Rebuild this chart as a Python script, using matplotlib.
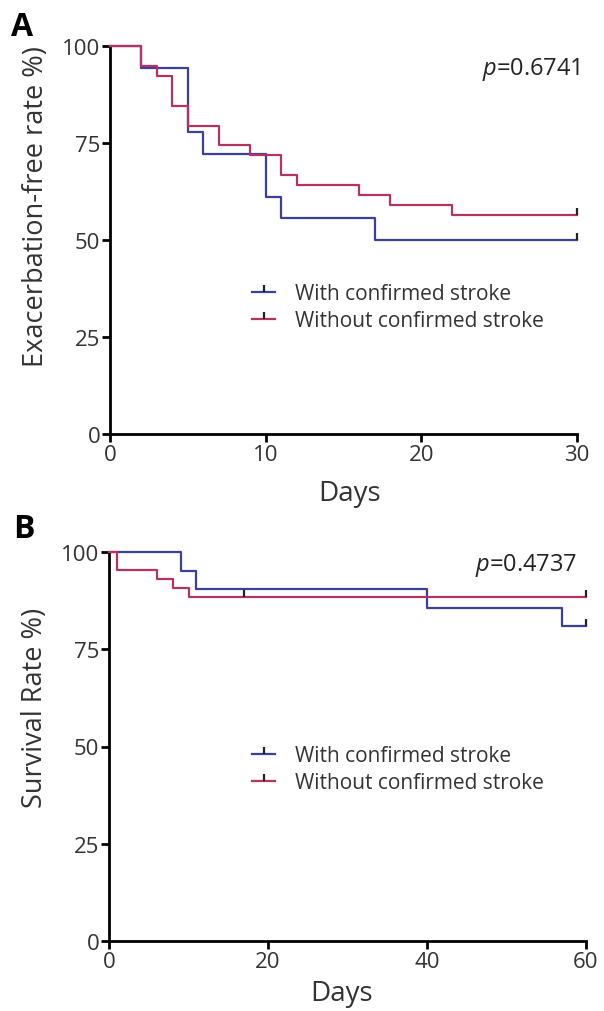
import matplotlib
matplotlib.use("Agg")
import matplotlib.pyplot as plt
from matplotlib.lines import Line2D

plt.rcParams['font.family'] = ['Open Sans', 'DejaVu Sans']
plt.rcParams['mathtext.fontset'] = 'custom'
plt.rcParams['mathtext.it'] = 'Open Sans:italic'
plt.rcParams['mathtext.rm'] = 'Open Sans'

BLUE = "#3b3f9e"
RED = "#b5335e"

# panel A: exacerbation-free, 30 days
a_with_t = [0, 2, 5, 6, 10, 11, 17, 30]
a_with_v = [100, 94.4, 77.8, 72.2, 61.1, 55.6, 50.0, 50.0]
a_without_t = [0, 2, 3, 4, 5, 7, 9, 11, 12, 16, 18, 22, 30]
a_without_v = [100, 94.9, 92.3, 84.6, 79.5, 74.4, 71.8, 66.7, 64.1, 61.5, 59.0, 56.4, 56.4]
a_with_cens = [30]
a_without_cens = [30]

# panel B: survival, 60 days
b_with_t = [0, 9, 11, 40, 57, 60]
b_with_v = [100, 95.2, 90.5, 85.7, 81.0, 81.0]
b_without_t = [0, 1, 6, 8, 10, 60]
b_without_v = [100, 95.3, 93.0, 90.7, 88.4, 88.4]
b_with_cens = [60]
b_without_cens = [17, 60]

labels = ["With confirmed stroke", "Without confirmed stroke"]

W, H = 604, 1012
fig = plt.figure(figsize=(W / 100, H / 100), dpi=100)


def km_value(ts, vs, t):
    v = vs[0]
    for ti, vi in zip(ts, vs):
        if ti <= t:
            v = vi
    return v


def panel(rect, tw, vw, cw, tn, vn, cn, xmax, xticks, ylabel, pval, pxy, letter, letter_xy,
          leg_y, ylab_xy, xlab_xy):
    l, t, r, b = rect
    aw, ah = r - l, b - t
    ax = fig.add_axes([l / W, 1 - b / H, aw / W, ah / H])
    for ts, vs, cs, col in [(tw, vw, cw, BLUE), (tn, vn, cn, RED)]:
        ax.step(ts, vs, where='post', color=col, lw=1.6, clip_on=False, zorder=3)
        ax.plot(cs, [km_value(ts, vs, c) for c in cs], ls='none', marker=2,
                ms=5, mew=1.6, color='#222222', clip_on=False, zorder=4)
    ax.set_xlim(0, xmax)
    ax.set_ylim(0, 100)
    ax.set_xticks(xticks)
    ax.set_yticks([0, 25, 50, 75, 100])
    for s in ['top', 'right']:
        ax.spines[s].set_visible(False)
    for s in ['left', 'bottom']:
        ax.spines[s].set_linewidth(2)
    ax.tick_params(direction='out', length=6, width=2, labelsize=16, pad=1,
                   colors='black', labelcolor='#333333')
    ax.set_xlabel("Days", fontsize=20, color='#333333', va='center')
    ax.xaxis.set_label_coords((xlab_xy[0] - l) / aw, (b - xlab_xy[1]) / ah)
    ax.set_ylabel(ylabel, fontsize=19.5, color='#333333', va='center', ha='center')
    ax.yaxis.set_label_coords((ylab_xy[0] - l) / aw, (b - ylab_xy[1]) / ah)
    ax.text((pxy[0] - l) / aw, (b - pxy[1]) / ah, r"$p$=" + pval, transform=ax.transAxes,
            ha='right', va='center', fontsize=17, color='#222222')
    fig.text(letter_xy[0] / W, 1 - letter_xy[1] / H, letter, fontsize=23, fontweight='bold',
             va='center', ha='center')
    handles = [Line2D([0], [0], color=BLUE, lw=1.6, marker=2, ms=5, mew=1.6, mec='#222222'),
               Line2D([0], [0], color=RED, lw=1.6, marker=2, ms=5, mew=1.6, mec='#222222')]
    ax.legend(handles, labels, loc='center left',
              bbox_to_anchor=((244 - l) / aw, (b - leg_y) / ah),
              frameon=False, fontsize=15, handlelength=1.1, handletextpad=0.95,
              labelspacing=0.3, labelcolor='#333333', borderaxespad=0)
    return ax


panel((110, 47, 577, 435), a_with_t, a_with_v, a_with_cens, a_without_t, a_without_v, a_without_cens,
      30, [0, 10, 20, 30], "Exacerbation-free rate %)", "0.6741", (580, 69), "A", (22, 27),
      308, (36, 207), (350, 494))
panel((109, 553, 586, 942), b_with_t, b_with_v, b_with_cens, b_without_t, b_without_v, b_without_cens,
      60, [0, 20, 40, 60], "Survival Rate %)", "0.4737", (577, 566), "B", (24, 530),
      770, (35, 708), (342, 994))

fig.savefig("out.png", dpi=100)
